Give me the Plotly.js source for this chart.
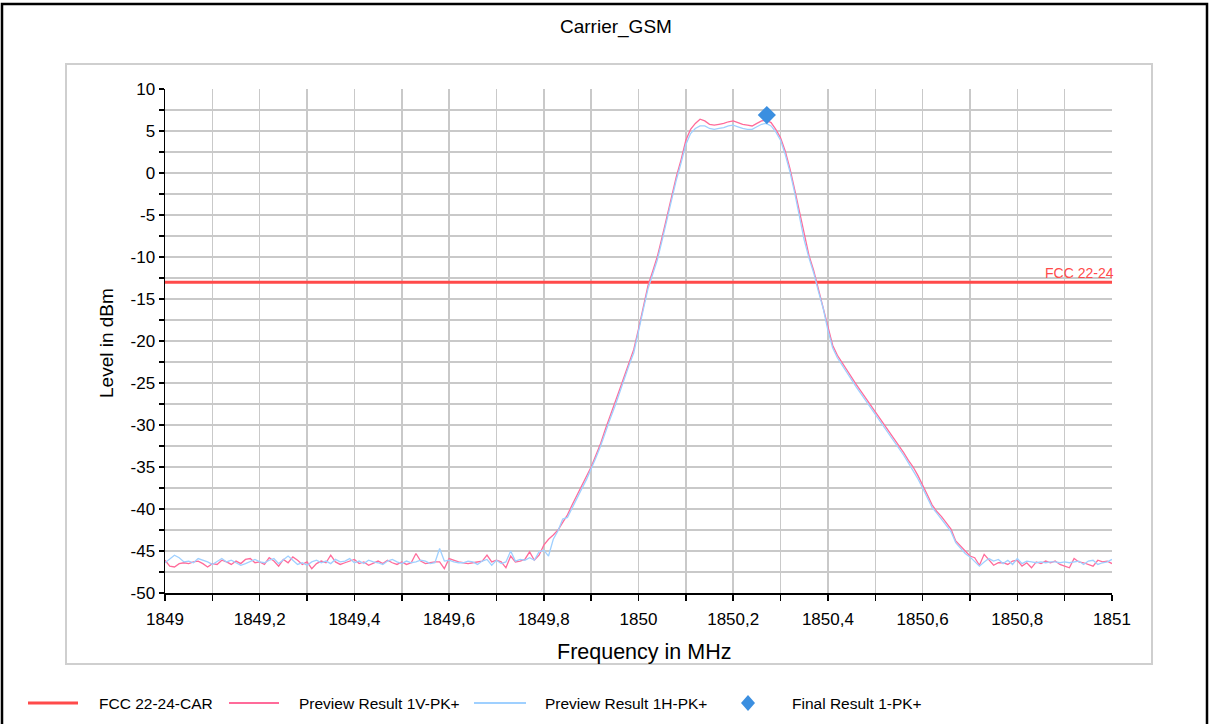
<!DOCTYPE html>
<html><head><meta charset="utf-8">
<script src="https://cdn.plot.ly/plotly-3.0.1.min.js"></script>
<style>html,body{margin:0;padding:0;background:#fff}#chart{width:1210px;height:724px}</style>
</head><body><div id="chart"></div>
<script>
const freqMHz = [
1849.00,1849.01,1849.02,1849.03,1849.04,1849.05,1849.06,1849.07,1849.08,1849.09,
1849.10,1849.11,1849.12,1849.13,1849.14,1849.15,1849.16,1849.17,1849.18,1849.19,
1849.20,1849.21,1849.22,1849.23,1849.24,1849.25,1849.26,1849.27,1849.28,1849.29,
1849.30,1849.31,1849.32,1849.33,1849.34,1849.35,1849.36,1849.37,1849.38,1849.39,
1849.40,1849.41,1849.42,1849.43,1849.44,1849.45,1849.46,1849.47,1849.48,1849.49,
1849.50,1849.51,1849.52,1849.53,1849.54,1849.55,1849.56,1849.57,1849.58,1849.59,
1849.60,1849.61,1849.62,1849.63,1849.64,1849.65,1849.66,1849.67,1849.68,1849.69,
1849.70,1849.71,1849.72,1849.73,1849.74,1849.75,1849.76,1849.77,1849.78,1849.79,
1849.80,1849.81,1849.82,1849.83,1849.84,1849.85,1849.86,1849.87,1849.88,1849.89,
1849.90,1849.91,1849.92,1849.93,1849.94,1849.95,1849.96,1849.97,1849.98,1849.99,
1850.00,1850.01,1850.02,1850.03,1850.04,1850.05,1850.06,1850.07,1850.08,1850.09,
1850.10,1850.11,1850.12,1850.13,1850.14,1850.15,1850.16,1850.17,1850.18,1850.19,
1850.20,1850.21,1850.22,1850.23,1850.24,1850.25,1850.26,1850.27,1850.28,1850.29,
1850.30,1850.31,1850.32,1850.33,1850.34,1850.35,1850.36,1850.37,1850.38,1850.39,
1850.40,1850.41,1850.42,1850.43,1850.44,1850.45,1850.46,1850.47,1850.48,1850.49,
1850.50,1850.51,1850.52,1850.53,1850.54,1850.55,1850.56,1850.57,1850.58,1850.59,
1850.60,1850.61,1850.62,1850.63,1850.64,1850.65,1850.66,1850.67,1850.68,1850.69,
1850.70,1850.71,1850.72,1850.73,1850.74,1850.75,1850.76,1850.77,1850.78,1850.79,
1850.80,1850.81,1850.82,1850.83,1850.84,1850.85,1850.86,1850.87,1850.88,1850.89,
1850.90,1850.91,1850.92,1850.93,1850.94,1850.95,1850.96,1850.97,1850.98,1850.99,
1851.00];
const previewV = [
-46.1,-46.8,-46.9,-46.5,-46.4,-46.5,-46.3,-46.2,-46.5,-46.9,
-46.5,-46.6,-46.1,-46.3,-46.6,-46.2,-46.5,-46.0,-45.9,-46.4,
-46.3,-46.6,-45.8,-46.2,-46.8,-46.0,-46.4,-45.7,-46.1,-46.6,
-46.3,-47.1,-46.5,-46.2,-46.4,-45.5,-46.3,-46.6,-46.4,-46.2,
-46.0,-46.5,-46.3,-46.7,-46.4,-46.2,-46.5,-46.1,-46.4,-46.6,
-46.3,-46.6,-46.4,-45.3,-46.2,-46.5,-46.4,-46.3,-46.3,-47.1,
-45.9,-46.1,-46.3,-46.4,-46.5,-46.4,-46.3,-46.2,-45.5,-46.3,
-46.1,-46.3,-47.0,-45.6,-46.3,-46.2,-46.0,-45.1,-46.1,-45.5,
-44.3,-43.6,-43.1,-42.5,-41.6,-40.7,-39.5,-38.4,-37.3,-36.2,
-35.0,-33.6,-32.2,-30.5,-29.0,-27.5,-25.8,-24.2,-22.6,-21.0,
-18.6,-15.9,-13.4,-11.7,-9.9,-7.6,-5.2,-2.6,-0.4,1.6,
3.9,5.2,5.9,6.4,6.2,5.8,5.7,5.8,5.9,6.1,
6.2,6.0,5.8,5.7,5.6,5.9,6.2,6.3,6.0,5.2,
4.2,2.6,0.5,-2.0,-4.6,-7.6,-9.8,-11.6,-13.9,-15.9,
-18.4,-20.5,-21.7,-22.6,-23.4,-24.3,-25.2,-26.0,-26.8,-27.6,
-28.4,-29.2,-30.0,-30.8,-31.6,-32.4,-33.3,-34.2,-35.0,-36.0,
-37.1,-38.3,-39.5,-40.3,-40.9,-41.6,-42.4,-43.8,-44.4,-45.0,
-45.6,-45.8,-46.7,-45.4,-46.1,-46.7,-46.4,-46.4,-46.6,-46.2,
-46.1,-46.8,-46.4,-47.0,-46.3,-46.5,-46.2,-46.4,-46.2,-46.6,
-46.8,-47.0,-45.9,-46.3,-46.4,-46.6,-46.8,-46.1,-46.3,-46.2,
-46.5];
const previewH = [
-46.4,-46.0,-45.5,-45.8,-46.3,-46.2,-46.4,-45.9,-46.1,-46.3,
-46.6,-46.2,-45.9,-46.3,-46.1,-46.4,-46.7,-46.5,-46.2,-46.0,
-46.3,-46.4,-46.1,-45.9,-46.5,-46.0,-45.6,-46.1,-46.6,-46.4,
-46.7,-46.3,-46.1,-46.4,-46.2,-46.5,-46.0,-46.3,-46.2,-45.9,
-46.4,-46.2,-46.5,-46.1,-46.3,-46.4,-46.6,-46.2,-46.0,-46.3,
-46.5,-46.2,-46.4,-46.3,-46.1,-46.2,-46.5,-46.4,-44.7,-46.2,
-46.1,-46.3,-46.4,-46.4,-46.2,-46.3,-46.6,-46.2,-46.0,-46.7,
-46.1,-46.5,-46.3,-45.0,-46.2,-46.0,-46.1,-45.8,-46.1,-45.1,
-44.9,-45.6,-43.6,-42.6,-41.2,-41.0,-39.8,-38.7,-37.6,-36.5,
-35.3,-33.9,-32.5,-30.8,-29.3,-27.8,-26.1,-24.5,-22.9,-21.4,
-19.0,-16.3,-13.8,-12.0,-10.3,-8.0,-5.6,-3.0,-0.8,1.2,
3.4,4.7,5.3,5.6,5.6,5.3,5.2,5.3,5.4,5.6,
5.7,5.5,5.3,5.2,5.2,5.5,5.8,5.9,5.6,4.9,
3.9,2.2,0.1,-2.4,-5.0,-8.0,-10.1,-11.9,-14.1,-16.1,
-18.7,-20.8,-22.0,-22.9,-23.7,-24.6,-25.5,-26.3,-27.1,-27.9,
-28.7,-29.5,-30.3,-31.1,-31.9,-32.7,-33.6,-34.5,-35.4,-36.4,
-37.5,-38.7,-39.8,-40.5,-41.2,-41.9,-42.7,-44.0,-44.7,-45.3,
-45.7,-46.2,-46.8,-46.3,-45.9,-46.2,-46.0,-46.5,-46.1,-46.6,
-45.9,-46.5,-46.2,-46.3,-46.4,-46.3,-46.4,-46.3,-46.3,-46.4,
-46.3,-46.4,-46.3,-46.2,-46.6,-46.2,-46.1,-46.6,-46.4,-46.3,
-46.0];
const limitFreq = [1849, 1851];
const limitLevel = [-13, -13];
const limitLabel = 'FCC 22-24';
const finalFreq = [1850.271];
const finalLevel = [6.9];
const xTickVals = [1849,1849.1,1849.2,1849.3,1849.4,1849.5,1849.6,1849.7,1849.8,1849.9,1850,1850.1,1850.2,1850.3,1850.4,1850.5,1850.6,1850.7,1850.8,1850.9,1851];
const xTickText = ['1849','','1849,2','','1849,4','','1849,6','','1849,8','','1850','','1850,2','','1850,4','','1850,6','','1850,8','','1851'];
const yTickVals = [-50,-47.5,-45,-42.5,-40,-37.5,-35,-32.5,-30,-27.5,-25,-22.5,-20,-17.5,-15,-12.5,-10,-7.5,-5,-2.5,0,2.5,5,7.5,10];
const yTickText = ['-50','','-45','','-40','','-35','','-30','','-25','','-20','','-15','','-10','','-5','','0','','5','','10'];
const seriesNames = ['FCC 22-24-CAR','Preview Result 1V-PK+','Preview Result 1H-PK+','Final Result 1-PK+'];
const chartTitle = 'Carrier_GSM';
const xTitle = 'Frequency in MHz';
const yTitle = 'Level in dBm';

const C = {red:'#ff4a4a', pink:'#ff6b9a', blue:'#9fd0ff', diamond:'#3b8fe0', grid:'#c9c9c9'};
const FONT = 'Liberation Sans, Arial, sans-serif';
const L = 165, R = 1112, T = 89, B = 593, W = 1210, H = 724;
const px = p => (p - L) / (R - L);
const py = p => (B - p) / (B - T);

const traces = [
  {x: limitFreq, y: limitLevel, name: seriesNames[0], mode: 'lines', line: {color: C.red, width: 3}},
  {x: freqMHz, y: previewV, name: seriesNames[1], mode: 'lines', line: {color: C.pink, width: 1.3}},
  {x: freqMHz, y: previewH, name: seriesNames[2], mode: 'lines', line: {color: C.blue, width: 1.3}},
  {x: finalFreq, y: finalLevel, name: seriesNames[3], mode: 'markers', marker: {symbol: 'diamond', size: 14, color: C.diamond}}
];

const axisCommon = {
  showline: true, linecolor: '#000', linewidth: 1.5, mirror: false,
  ticks: 'outside', ticklen: 6, tickwidth: 1.5, tickcolor: '#000',
  showgrid: true, gridcolor: C.grid, gridwidth: 1.5, zeroline: false,
  tickfont: {family: FONT, size: 17, color: '#000'}, fixedrange: true
};

const shapes = [
  {type: 'rect', xref: 'paper', yref: 'paper', x0: px(2), x1: px(1207), y0: py(740), y1: py(4), line: {color: '#000', width: 2.5}, layer: 'below'},
  {type: 'rect', xref: 'paper', yref: 'paper', x0: px(66), x1: px(1152), y0: py(664), y1: py(64), line: {color: '#cfcfcf', width: 2}, layer: 'below'},
  {type: 'line', xref: 'paper', yref: 'paper', x0: px(28), x1: px(78), y0: py(703), y1: py(703), line: {color: C.red, width: 3}},
  {type: 'line', xref: 'paper', yref: 'paper', x0: px(229), x1: px(279), y0: py(703), y1: py(703), line: {color: C.pink, width: 2}},
  {type: 'line', xref: 'paper', yref: 'paper', x0: px(474), x1: px(526), y0: py(703), y1: py(703), line: {color: C.blue, width: 2}},
  {type: 'path', xref: 'paper', yref: 'paper',
   path: `M ${px(741)} ${py(703)} L ${px(748)} ${py(695)} L ${px(755)} ${py(703)} L ${px(748)} ${py(711)} Z`,
   fillcolor: C.diamond, line: {width: 0}}
];

const legendX = [97, 297, 543, 790];
const annotations = [
  {xref: 'paper', yref: 'paper', x: px(616), y: py(27), text: chartTitle, showarrow: false, xanchor: 'center', yanchor: 'middle', font: {family: FONT, size: 19, color: '#000'}},
  {xref: 'paper', yref: 'paper', x: px(644), y: py(652), text: xTitle, showarrow: false, xanchor: 'center', yanchor: 'middle', font: {family: FONT, size: 21.5, color: '#000'}},
  {xref: 'paper', yref: 'paper', x: px(106), y: py(343), text: yTitle, showarrow: false, textangle: -90, xanchor: 'center', yanchor: 'middle', font: {family: FONT, size: 19, color: '#000'}},
  {xref: 'x', yref: 'y', x: limitFreq[1], y: limitLevel[1], text: limitLabel, showarrow: false, xanchor: 'right', yanchor: 'bottom', xshift: 4, yshift: -1, font: {family: FONT, size: 14, color: C.red}}
].concat(seriesNames.map((n, i) => ({xref: 'paper', yref: 'paper', x: px(legendX[i]), y: py(703), text: n, showarrow: false, xanchor: 'left', yanchor: 'middle', font: {family: FONT, size: 15.5, color: '#000'}})));

const layout = {
  width: W, height: H,
  margin: {l: L, r: W - R, t: T, b: H - B, pad: 0},
  paper_bgcolor: '#fff', plot_bgcolor: '#fff',
  showlegend: false,
  xaxis: Object.assign({}, axisCommon, {range: [1849, 1851], tickmode: 'array', tickvals: xTickVals, ticktext: xTickText, ticklabelstandoff: 4}),
  yaxis: Object.assign({}, axisCommon, {range: [-50, 10], tickmode: 'array', tickvals: yTickVals, ticktext: yTickText, ticklen: 5}),
  xaxis2: {overlaying: 'x', matches: 'x', anchor: 'y', side: 'bottom', showgrid: false, zeroline: false, showline: false, ticks: 'inside', ticklen: 5, tickwidth: 1.5, tickcolor: '#000', tickmode: 'array', tickvals: xTickVals, showticklabels: false, fixedrange: true},
  yaxis2: {overlaying: 'y', matches: 'y', anchor: 'x', side: 'left', showgrid: false, zeroline: false, showline: false, ticks: 'inside', ticklen: 5, tickwidth: 1.5, tickcolor: '#000', tickmode: 'array', tickvals: yTickVals, showticklabels: false, fixedrange: true},
  shapes: shapes,
  annotations: annotations,
  hovermode: false
};

Plotly.newPlot('chart', traces, layout, {staticPlot: true, displayModeBar: false});
</script>
</body></html>
